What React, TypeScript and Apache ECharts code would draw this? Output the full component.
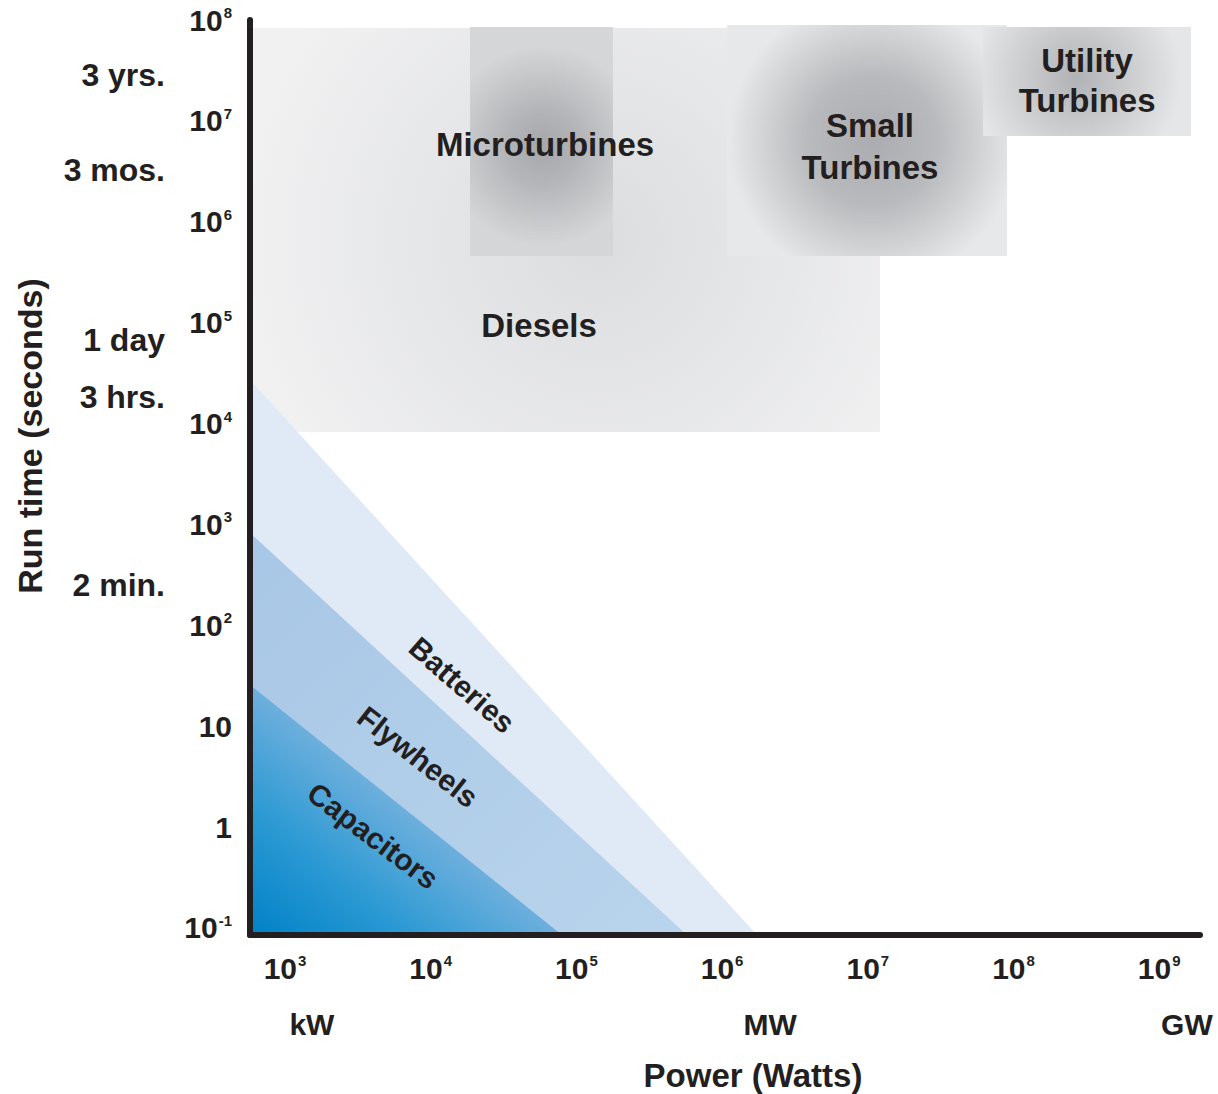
import React, { useEffect, useRef } from 'react';
import * as echarts from 'echarts';

// Axis extents, in decades (log10 of watts / log10 of seconds)
const POWER_RANGE = [2.76, 9.28];
const TIME_RANGE = [-1.07, 8];

// Tick labels
const powerTickExps = [3, 4, 5, 6, 7, 8, 9];
const powerTickLabels = ['10^3', '10^4', '10^5', '10^6', '10^7', '10^8', '10^9'];
const powerUnitExps = [3.185, 6.33, 9.19];
const powerUnitLabels = ['kW', 'MW', 'GW'];
const timeTickExps = [-1, 0, 1, 2, 3, 4, 5, 6, 7, 8];
const timeTickLabels = ['10^-1', '1', '10', '10^2', '10^3', '10^4', '10^5', '10^6', '10^7', '10^8'];
const durationExps = [7.455, 6.513, 4.83, 4.264, 2.4];
const durationLabels = ['3 yrs.', '3 mos.', '1 day', '3 hrs.', '2 min.'];

// Generation technologies: rectangles in (power, run time) decades
const techNames = ['Diesels', 'Microturbines', 'Small\nTurbines', 'Utility\nTurbines'];
const techPowerMin = [2.76, 4.27, 6.034, 7.791];
const techPowerMax = [7.084, 5.251, 7.956, 9.218];
const techTimeMin = [3.917, 5.661, 5.661, 6.85];
const techTimeMax = [7.92, 7.93, 7.95, 7.93];
const techLabelPower = [4.744, 4.785, 7.015, 8.505];
const techLabelTime = [4.967, 6.761, 6.751, 7.405];

// Storage technologies: triangles from the lower-left corner
const storageNames = ['Batteries', 'Flywheels', 'Capacitors'];
const storageTimeAtMinPower = [4.432, 2.916, 1.409];
const storagePowerAtMinTime = [6.24, 5.759, 4.901];
const storageLabelPower = [4.215, 3.913, 3.604];
const storageLabelTime = [1.409, 0.696, -0.087];
const storageLabelAngle = [41, 38, 37];

const INK = '#231f20';
const FONT = '"Liberation Sans", Arial, Helvetica, sans-serif';

const techStyles = [
  { cx: 0.55, cy: 0.52, r: 360, lh: 40, stops: [
    { offset: 0, color: '#dcdddf' }, { offset: 1, color: '#f1f1f2' }] },
  { cx: 0.51, cy: 0.52, r: 100, lh: 40, stops: [
    { offset: 0, color: '#a6a7aa' }, { offset: 0.35, color: '#b3b4b7' }, { offset: 1, color: '#d5d6d8' }] },
  { cx: 0.52, cy: 0.5, r: 145, lh: 42, stops: [
    { offset: 0, color: '#abacaf' }, { offset: 0.45, color: '#b9babd' }, { offset: 1, color: '#e7e8e9' }] },
  { cx: 0.45, cy: 0.46, r: 105, lh: 40, stops: [
    { offset: 0, color: '#b1b2b5' }, { offset: 1, color: '#e5e6e7' }] },
];

const bandFills = [
  '#dfeaf6',
  new echarts.graphic.LinearGradient(0, 0, 1, 1, [
    { offset: 0, color: '#a8c7e6' }, { offset: 1, color: '#b9d4ec' }]),
  new echarts.graphic.LinearGradient(0, 1, 0.5, 0.5, [
    { offset: 0, color: '#0081c7' }, { offset: 0.5, color: '#2a99d3' }, { offset: 1, color: '#6dafdd' }]),
];

const rich = {
  b: { fontSize: 30, fontWeight: 'bold', fontFamily: FONT, color: INK, lineHeight: 32 },
  s: { fontSize: 15, fontWeight: 'bold', fontFamily: FONT, color: INK, lineHeight: 15, verticalAlign: 'top', padding: [1, 0, 0, 1] },
};

const lookup = (exps: number[], labels: string[]) => (v: number) => {
  const i = exps.findIndex((e) => Math.abs(e - v) < 1e-6);
  return i < 0 ? '' : labels[i];
};
const powFmt = (exps: number[], labels: string[]) => (v: number) => {
  const s = lookup(exps, labels)(v);
  const parts = s.split('^');
  return parts.length === 2 ? `{b|${parts[0]}}{s|${parts[1]}}` : `{b|${s}}`;
};

const hidden = { show: false };

const option: any = {
  animation: false,
  backgroundColor: '#ffffff',
  grid: { left: 250, right: 18, top: 20, bottom: 159, containLabel: false },
  xAxis: [
    {
      type: 'value', min: POWER_RANGE[0], max: POWER_RANGE[1], position: 'bottom', z: 20,
      axisLine: { show: true, onZero: false, lineStyle: { color: INK, width: 6 } },
      axisTick: hidden, splitLine: hidden,
      axisLabel: { customValues: powerTickExps, margin: 17, formatter: powFmt(powerTickExps, powerTickLabels), rich },
    },
    {
      type: 'value', min: POWER_RANGE[0], max: POWER_RANGE[1], position: 'bottom', offset: 57, z: 20,
      axisLine: hidden, axisTick: hidden, splitLine: hidden,
      axisLabel: {
        customValues: powerUnitExps, margin: 17, formatter: lookup(powerUnitExps, powerUnitLabels),
        fontSize: 30, fontWeight: 'bold', fontFamily: FONT, color: INK,
      },
    },
  ],
  yAxis: [
    {
      type: 'value', min: TIME_RANGE[0], max: TIME_RANGE[1], position: 'left', z: 20,
      axisLine: { show: true, onZero: false, lineStyle: { color: INK, width: 6 } },
      axisTick: hidden, splitLine: hidden,
      axisLabel: { customValues: timeTickExps, margin: 18, formatter: powFmt(timeTickExps, timeTickLabels), rich },
    },
    {
      type: 'value', min: TIME_RANGE[0], max: TIME_RANGE[1], position: 'left', offset: 77, z: 20,
      axisLine: hidden, axisTick: hidden, splitLine: hidden,
      axisLabel: {
        customValues: durationExps, margin: 8, formatter: lookup(durationExps, durationLabels),
        fontSize: 32, fontWeight: 'bold', fontFamily: FONT, color: INK,
      },
    },
  ],
  graphic: [
    { type: 'text', x: 753, y: 1075, style: { text: 'Power (Watts)', fill: INK, fontSize: 33, fontWeight: 'bold', fontFamily: FONT, align: 'center', verticalAlign: 'middle' } },
    { type: 'text', x: 30, y: 436, rotation: Math.PI / 2, style: { text: 'Run time (seconds)', fill: INK, fontSize: 34, fontWeight: 'bold', fontFamily: FONT, align: 'center', verticalAlign: 'middle' } },
  ],
  series: [
    {
      type: 'custom', name: 'Generation', silent: true, clip: false, z: 1,
      data: techNames.map((_, i) => [techPowerMin[i], techPowerMax[i], techTimeMin[i], techTimeMax[i], techLabelPower[i], techLabelTime[i]]),
      renderItem: (params: any, api: any) => {
        const i = params.dataIndex;
        const tl = api.coord([api.value(0), api.value(3)]);
        const br = api.coord([api.value(1), api.value(2)]);
        const lp = api.coord([api.value(4), api.value(5)]);
        const st = techStyles[i];
        const w = br[0] - tl[0];
        const h = br[1] - tl[1];
        const cx = tl[0] + st.cx * w;
        const cy = tl[1] + st.cy * h;
        return {
          type: 'group',
          children: [
            { type: 'rect', shape: { x: tl[0], y: tl[1], width: w, height: h },
              style: { fill: new echarts.graphic.RadialGradient(cx, cy, st.r, st.stops, true) } },
            { type: 'text', x: lp[0], y: lp[1],
              style: { text: techNames[i], fill: INK, fontSize: 33, fontWeight: 'bold', fontFamily: FONT,
                align: 'center', verticalAlign: 'middle', lineHeight: st.lh } },
          ],
        };
      },
    },
    {
      type: 'custom', name: 'Storage', silent: true, clip: false, z: 2,
      data: storageNames.map((_, i) => [storageTimeAtMinPower[i], storagePowerAtMinTime[i]]),
      renderItem: (params: any, api: any) => {
        const i = params.dataIndex;
        const top = api.coord([POWER_RANGE[0], api.value(0)]);
        const end = api.coord([api.value(1), TIME_RANGE[0]]);
        const corner = api.coord([POWER_RANGE[0], TIME_RANGE[0]]);
        return { type: 'polygon', shape: { points: [top, end, corner] }, style: { fill: bandFills[i] } };
      },
    },
    {
      type: 'custom', name: 'Storage labels', silent: true, clip: false, z: 3,
      data: storageNames.map((_, i) => [storageLabelPower[i], storageLabelTime[i]]),
      renderItem: (params: any, api: any) => {
        const i = params.dataIndex;
        const p = api.coord([api.value(0), api.value(1)]);
        return {
          type: 'text', x: p[0], y: p[1], rotation: -storageLabelAngle[i] * Math.PI / 180,
          style: { text: storageNames[i], fill: INK, fontSize: 30, fontWeight: 'bold', fontFamily: FONT,
            align: 'center', verticalAlign: 'middle' },
        };
      },
    },
  ],
};

export default function App() {
  const ref = useRef<HTMLDivElement>(null);
  useEffect(() => {
    document.body.style.margin = '0';
    const chart = echarts.init(ref.current as HTMLDivElement, null, { renderer: 'svg' });
    chart.setOption(option);
    return () => chart.dispose();
  }, []);
  return <div ref={ref} style={{ width: 1218, height: 1094, background: '#ffffff' }} />;
}
